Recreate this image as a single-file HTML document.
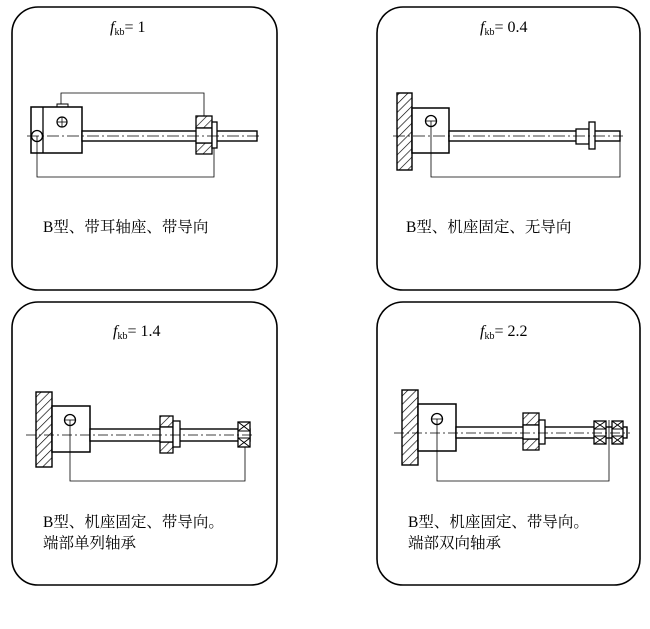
<!DOCTYPE html>
<html><head><meta charset="utf-8">
<style>
html,body{margin:0;padding:0;background:#fff;}
svg{display:block;}
text{font-family:"Liberation Serif","Noto Serif CJK SC",serif;fill:#000;}
.cn{font-family:"Liberation Serif","Noto Serif CJK SC",serif;font-size:15.5px;}
</style></head><body>
<svg width="650" height="629" viewBox="0 0 650 629" xmlns="http://www.w3.org/2000/svg">
<defs>
<pattern id="h" patternUnits="userSpaceOnUse" width="6" height="6" patternTransform="rotate(45)">
<rect width="6" height="6" fill="#fff"/><line x1="0" y1="0" x2="0" y2="6" stroke="#000" stroke-width="1.3"/>
</pattern>
</defs>
<g fill="none" stroke="#000" stroke-width="1.6">
<rect x="12" y="7" width="265" height="283" rx="26"/>
<rect x="377" y="7" width="263" height="283" rx="26"/>
<rect x="12" y="302" width="265" height="283" rx="26"/>
<rect x="377" y="302" width="263" height="283" rx="26"/>
</g>

<g font-size="16">
<text x="110" y="32"><tspan font-style="italic">f</tspan><tspan font-size="10" dy="3">kb</tspan><tspan dy="-3">= 1</tspan></text>
<text x="480" y="32"><tspan font-style="italic">f</tspan><tspan font-size="10" dy="3">kb</tspan><tspan dy="-3">= 0.4</tspan></text>
<text x="113" y="336"><tspan font-style="italic">f</tspan><tspan font-size="10" dy="3">kb</tspan><tspan dy="-3">= 1.4</tspan></text>
<text x="480" y="336"><tspan font-style="italic">f</tspan><tspan font-size="10" dy="3">kb</tspan><tspan dy="-3">= 2.2</tspan></text>
</g>
<text class="cn" x="43" y="232">B型、带耳轴座、带导向</text>
<text class="cn" x="406" y="232">B型、机座固定、无导向</text>
<text class="cn" x="43" y="527">B型、机座固定、带导向。</text>
<text class="cn" x="43" y="548">端部单列轴承</text>
<text class="cn" x="408" y="527">B型、机座固定、带导向。</text>
<text class="cn" x="408" y="548">端部双向轴承</text>

<!-- Diagram 1 -->
<g stroke="#000" fill="none">
<rect x="57" y="104" width="11" height="3" fill="#fff" stroke-width="1"/>
<rect x="31" y="107" width="51" height="46" fill="#fff" stroke-width="1.5"/>
<line x1="43" y1="107" x2="43" y2="153" stroke-width="1.3"/>
<circle cx="37" cy="136" r="5.5" stroke-width="1.3"/>
<circle cx="62" cy="122" r="5" stroke-width="1.2"/>
<line x1="57" y1="122" x2="67" y2="122" stroke-width="0.8"/><line x1="62" y1="117" x2="62" y2="127" stroke-width="0.8"/>
<rect x="82" y="131" width="175" height="10" fill="#fff" stroke-width="1.4"/>
<rect x="196" y="116" width="16" height="12" fill="url(#h)" stroke-width="1.3"/>
<rect x="196" y="143" width="16" height="11" fill="url(#h)" stroke-width="1.3"/>
<rect x="196" y="128" width="16" height="15" fill="#fff" stroke-width="1.3"/>
<rect x="212" y="122" width="5" height="26" fill="#fff" stroke-width="1.3"/>
<polyline points="61,104 61,93 204,93 204,116" stroke-width="0.8"/>
<polyline points="37,136 37,177 214,177 214,148" stroke-width="0.8"/>
<line x1="27" y1="136" x2="262" y2="136" stroke-width="0.8" stroke-dasharray="12,3,2,3"/>
</g>

<!-- Diagram 2 -->
<g stroke="#000" fill="none">
<rect x="397" y="93" width="15" height="77" fill="url(#h)" stroke-width="1.4"/>
<rect x="412" y="108" width="37" height="45" fill="#fff" stroke-width="1.5"/>
<circle cx="431" cy="121" r="5.5" stroke-width="1.3"/>
<line x1="425" y1="121" x2="437" y2="121" stroke-width="0.8"/>
<rect x="449" y="131" width="171" height="10" fill="#fff" stroke-width="1.4"/>
<rect x="576" y="129" width="13" height="15" fill="#fff" stroke-width="1.3"/>
<rect x="589" y="122" width="6" height="27" fill="#fff" stroke-width="1.3"/>
<polyline points="431,121 431,177 620,177 620,141" stroke-width="0.8"/>
<line x1="393" y1="136" x2="623" y2="136" stroke-width="0.8" stroke-dasharray="12,3,2,3"/>
</g>

<!-- Diagram 3 -->
<g stroke="#000" fill="none">
<rect x="36" y="392" width="16" height="75" fill="url(#h)" stroke-width="1.4"/>
<rect x="52" y="406" width="38" height="46" fill="#fff" stroke-width="1.5"/>
<circle cx="70" cy="420" r="5.5" stroke-width="1.3"/>
<line x1="64" y1="420" x2="76" y2="420" stroke-width="0.8"/>
<rect x="90" y="429" width="160" height="12" fill="#fff" stroke-width="1.4"/>
<rect x="160" y="416" width="13" height="11" fill="url(#h)" stroke-width="1.3"/>
<rect x="160" y="442" width="13" height="11" fill="url(#h)" stroke-width="1.3"/>
<rect x="160" y="427" width="13" height="15" fill="#fff" stroke-width="1.3"/>
<rect x="173" y="421" width="7" height="26" fill="#fff" stroke-width="1.3"/>
<rect x="238" y="422" width="12" height="25" fill="#fff" stroke-width="1.3"/>
<path d="M238,422 L250,431 M250,422 L238,431 M238,438 L250,447 M250,438 L238,447 M238,431 H250 M238,438 H250" stroke-width="1"/>
<polyline points="70,420 70,481 245,481 245,447" stroke-width="0.8"/>
<line x1="26" y1="435" x2="254" y2="435" stroke-width="0.8" stroke-dasharray="10,3,2,3"/>
</g>

<!-- Diagram 4 -->
<g stroke="#000" fill="none">
<rect x="402" y="390" width="16" height="75" fill="url(#h)" stroke-width="1.4"/>
<rect x="418" y="404" width="38" height="47" fill="#fff" stroke-width="1.5"/>
<circle cx="437" cy="419" r="5.5" stroke-width="1.3"/>
<line x1="431" y1="419" x2="443" y2="419" stroke-width="0.8"/>
<rect x="456" y="427" width="171" height="11" fill="#fff" stroke-width="1.4"/>
<rect x="523" y="413" width="16" height="12" fill="url(#h)" stroke-width="1.3"/>
<rect x="523" y="439" width="16" height="11" fill="url(#h)" stroke-width="1.3"/>
<rect x="523" y="425" width="16" height="14" fill="#fff" stroke-width="1.3"/>
<rect x="539" y="420" width="6" height="24" fill="#fff" stroke-width="1.3"/>
<rect x="594" y="421" width="12" height="23" fill="#fff" stroke-width="1.3"/>
<path d="M594,421 L606,429 M606,421 L594,429 M594,436 L606,444 M606,436 L594,444 M594,429 H606 M594,436 H606" stroke-width="1"/>
<rect x="612" y="421" width="11" height="23" fill="#fff" stroke-width="1.3"/>
<path d="M612,421 L623,429 M623,421 L612,429 M612,436 L623,444 M623,436 L612,444 M612,429 H623 M612,436 H623" stroke-width="1"/>
<polyline points="437,419 437,481 609,481 609,420" stroke-width="0.8"/>
<line x1="394" y1="433" x2="630" y2="433" stroke-width="0.8" stroke-dasharray="10,3,2,3"/>
</g>
</svg>
</body></html>
